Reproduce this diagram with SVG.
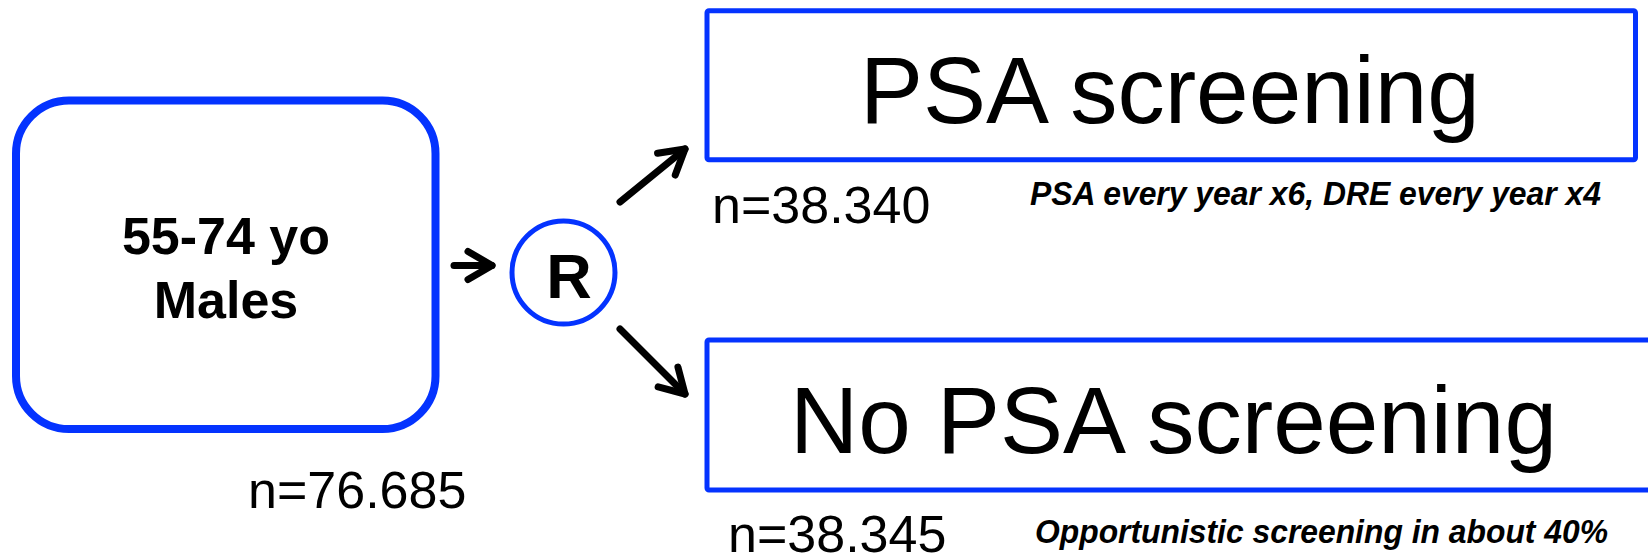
<svg xmlns="http://www.w3.org/2000/svg" width="1648" height="556" viewBox="0 0 1648 556">
  <style>
    .frame { fill: #ffffff; stroke: #0433ff; }
    .label { font-family: "Liberation Sans", Arial, sans-serif; fill: #000000; }
    .bold { font-weight: bold; }
    .note { font-family: "Liberation Sans", Arial, sans-serif; font-weight: bold; font-style: italic; font-size: 33px; fill: #000000; }
    .count { font-family: "Liberation Sans", Arial, sans-serif; font-size: 52px; fill: #000000; }
    .link { fill: none; stroke: #000000; stroke-width: 7; stroke-linecap: round; stroke-linejoin: round; }
  </style>
  <defs>
    <marker id="chevron" markerUnits="userSpaceOnUse" orient="auto" viewBox="-30 -20 40 40" refX="0" refY="0" markerWidth="40" markerHeight="40" overflow="visible">
      <path d="M -24 -14 L 0 0 L -24 14" fill="none" stroke="#000000" stroke-width="7" stroke-linecap="round" stroke-linejoin="round"/>
    </marker>
  </defs>

  <rect width="1648" height="556" fill="#ffffff"/>

  <!-- study population -->
  <g id="population">
    <rect class="frame" x="16" y="100.5" width="419.5" height="328.5" rx="53" ry="53" stroke-width="8"/>
    <text class="label bold" x="226" y="254" font-size="52" text-anchor="middle">55-74 yo</text>
    <text class="label bold" x="226" y="318" font-size="52" text-anchor="middle">Males</text>
    <text class="count" x="248" y="508">n=76.685</text>
  </g>

  <!-- randomisation -->
  <g id="randomisation">
    <circle class="frame" cx="563.5" cy="272.5" r="51.5" stroke-width="5"/>
    <text class="label bold" x="569" y="298" font-size="63" text-anchor="middle">R</text>
  </g>

  <!-- screening arm -->
  <g id="screening-arm">
    <rect class="frame" x="707" y="10.8" width="928.5" height="149" rx="2" ry="2" stroke-width="5"/>
    <text class="label" x="860" y="123" font-size="94.5">PSA screening</text>
    <text class="count" x="712" y="223">n=38.340</text>
    <text class="note" x="1030" y="205" textLength="571" lengthAdjust="spacingAndGlyphs">PSA every year x6, DRE every year x4</text>
  </g>

  <!-- control arm -->
  <g id="control-arm">
    <rect class="frame" x="707" y="340" width="970" height="150" rx="2" ry="2" stroke-width="5"/>
    <text class="label" x="790" y="453" font-size="94.5">No PSA screening</text>
    <text class="count" x="728" y="552">n=38.345</text>
    <text class="note" x="1035" y="543" textLength="573" lengthAdjust="spacingAndGlyphs">Opportunistic screening in about 40%</text>
  </g>

  <!-- connectors -->
  <g id="connectors">
    <path class="link" d="M 454 265.5 L 492 265.5" marker-end="url(#chevron)"/>
    <path class="link" d="M 620 202 L 685 149" marker-end="url(#chevron)"/>
    <path class="link" d="M 620 329 L 685 394" marker-end="url(#chevron)"/>
  </g>
</svg>
